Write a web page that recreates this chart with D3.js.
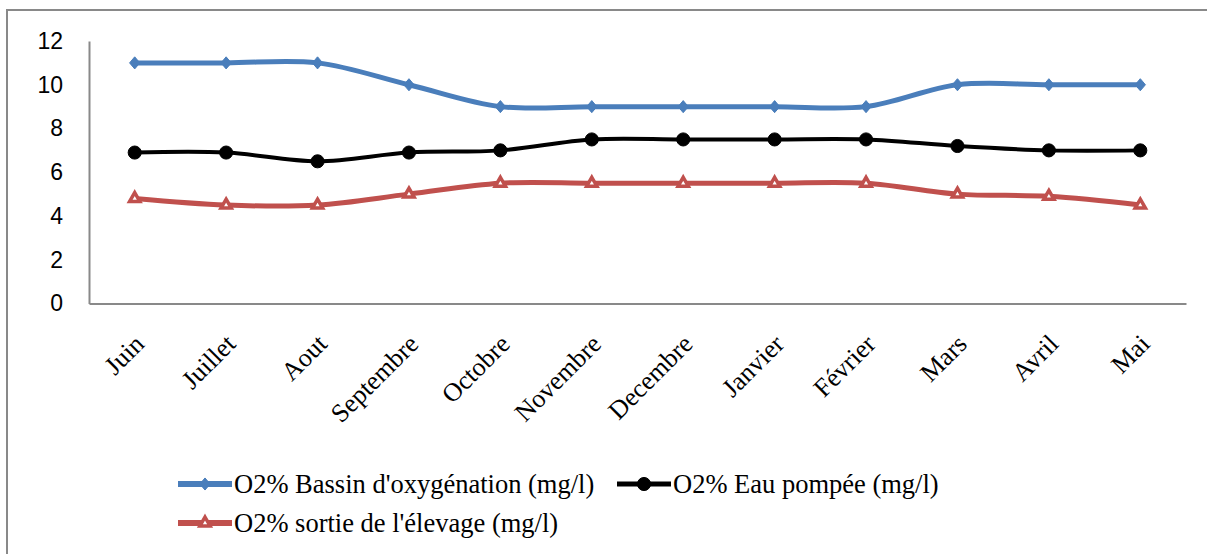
<!DOCTYPE html>
<html>
<head>
<meta charset="utf-8">
<script src="https://cdn.jsdelivr.net/npm/d3@7"></script>
<style>
  body { margin: 0; background: #fff; }
  svg { display: block; }
</style>
</head>
<body>
<svg id="chart" width="1207" height="554"></svg>
<script>
// months on the x axis
const months = ['Juin', 'Juillet', 'Aout', 'Septembre', 'Octobre', 'Novembre',
  'Decembre', 'Janvier', 'Février', 'Mars', 'Avril', 'Mai'];

// series values
const bassin = [11, 11, 11, 10, 9, 9, 9, 9, 9, 10, 10, 10];
const pompee = [6.9, 6.9, 6.5, 6.9, 7, 7.5, 7.5, 7.5, 7.5, 7.2, 7, 7];
const sortie = [4.8, 4.5, 4.5, 5, 5.5, 5.5, 5.5, 5.5, 5.5, 5, 4.9, 4.5];

const seriesNames = ["O2% Bassin d'oxygénation (mg/l)", 'O2% Eau pompée (mg/l)', "O2% sortie de l'élevage (mg/l)"];
const yTicks = [0, 2, 4, 6, 8, 10, 12];

const series = [
  { name: seriesNames[0], values: bassin, color: '#4a7ebb', width: 5, marker: 'diamond' },
  { name: seriesNames[1], values: pompee, color: '#000000', width: 4, marker: 'circle' },
  { name: seriesNames[2], values: sortie, color: '#c0504d', width: 5, marker: 'triangle' }
];

const serif = '"Liberation Serif", "Times New Roman", serif';

const svg = d3.select('#chart');

// outer chart frame (runs off the right and bottom)
svg.append('rect')
  .attr('x', 7).attr('y', 10)
  .attr('width', 1220).attr('height', 570)
  .attr('fill', 'none')
  .attr('stroke', '#898989')
  .attr('stroke-width', 2);

const plot = { left: 89, right: 1186, top: 41, bottom: 303.5 };

const x = d3.scaleBand().domain(months).range([plot.left, plot.right]);
const cx = m => x(m) + x.bandwidth() / 2;
const y = d3.scaleLinear().domain([0, 12]).range([plot.bottom, plot.top]);

// y axis
const yAxis = svg.append('g')
  .attr('transform', `translate(${plot.left},0)`)
  .call(d3.axisLeft(y).tickValues(yTicks).tickSize(0).tickPadding(26));
yAxis.select('.domain').attr('stroke', '#898989').attr('stroke-width', 2);
yAxis.selectAll('text')
  .attr('font-family', '"Liberation Sans", Arial, sans-serif')
  .attr('font-size', 23)
  .attr('fill', '#000');

// x axis
const xAxis = svg.append('g')
  .attr('transform', `translate(0,${plot.bottom})`)
  .call(d3.axisBottom(x).tickSize(0).tickSizeOuter(0));
xAxis.select('.domain').attr('stroke', '#898989').attr('stroke-width', 2);
xAxis.selectAll('text')
  .attr('font-family', serif)
  .attr('font-size', 26)
  .attr('fill', '#000')
  .attr('text-anchor', 'end')
  .attr('y', 0)
  .attr('dy', 0)
  .attr('transform', 'translate(11,42) rotate(-45)');

// lines
const line = d3.line()
  .x((d, i) => cx(months[i]))
  .y(d => y(d))
  .curve(d3.curveCatmullRom.alpha(0.5));

// Excel-like diamond: a bit taller than wide
const excelDiamond = {
  draw(ctx, size) {
    const h = Math.sqrt(size) * 0.78, w = h * 0.85;
    ctx.moveTo(0, -h); ctx.lineTo(w, 0); ctx.lineTo(0, h); ctx.lineTo(-w, 0); ctx.closePath();
  }
};

const symbolFor = {
  diamond: d3.symbol().type(excelDiamond).size(60),
  circle: d3.symbol().type(d3.symbolCircle).size(135),
  triangle: d3.symbol().type(d3.symbolTriangle).size(45)
};

const drawMarker = (sel, s) => sel
  .attr('d', symbolFor[s.marker])
  .attr('fill', s.marker === 'triangle' ? '#fff' : s.color)
  .attr('stroke', s.color)
  .attr('stroke-width', s.marker === 'triangle' ? 3.5 : 1);

series.forEach(s => {
  svg.append('path')
    .datum(s.values)
    .attr('d', line)
    .attr('fill', 'none')
    .attr('stroke', s.color)
    .attr('stroke-width', s.width);

  svg.append('g')
    .selectAll('path')
    .data(s.values)
    .join('path')
      .attr('transform', (d, i) => `translate(${cx(months[i])},${y(d)})`)
      .call(drawMarker, s);
});

// legend
const legendPos = [[178, 484], [617, 484], [178, 523]];
series.forEach((s, i) => {
  const [lx, ly] = legendPos[i];
  const g = svg.append('g').attr('transform', `translate(${lx},${ly})`);
  g.append('line')
    .attr('x1', 0).attr('x2', 54)
    .attr('stroke', s.color)
    .attr('stroke-width', s.width + 1);
  g.append('path')
    .attr('transform', 'translate(27,0)')
    .call(drawMarker, s);
  g.append('text')
    .attr('x', 56)
    .attr('y', 9)
    .attr('font-family', serif)
    .attr('font-size', 26.5)
    .attr('fill', '#000')
    .text(s.name);
});
</script>
</body>
</html>
